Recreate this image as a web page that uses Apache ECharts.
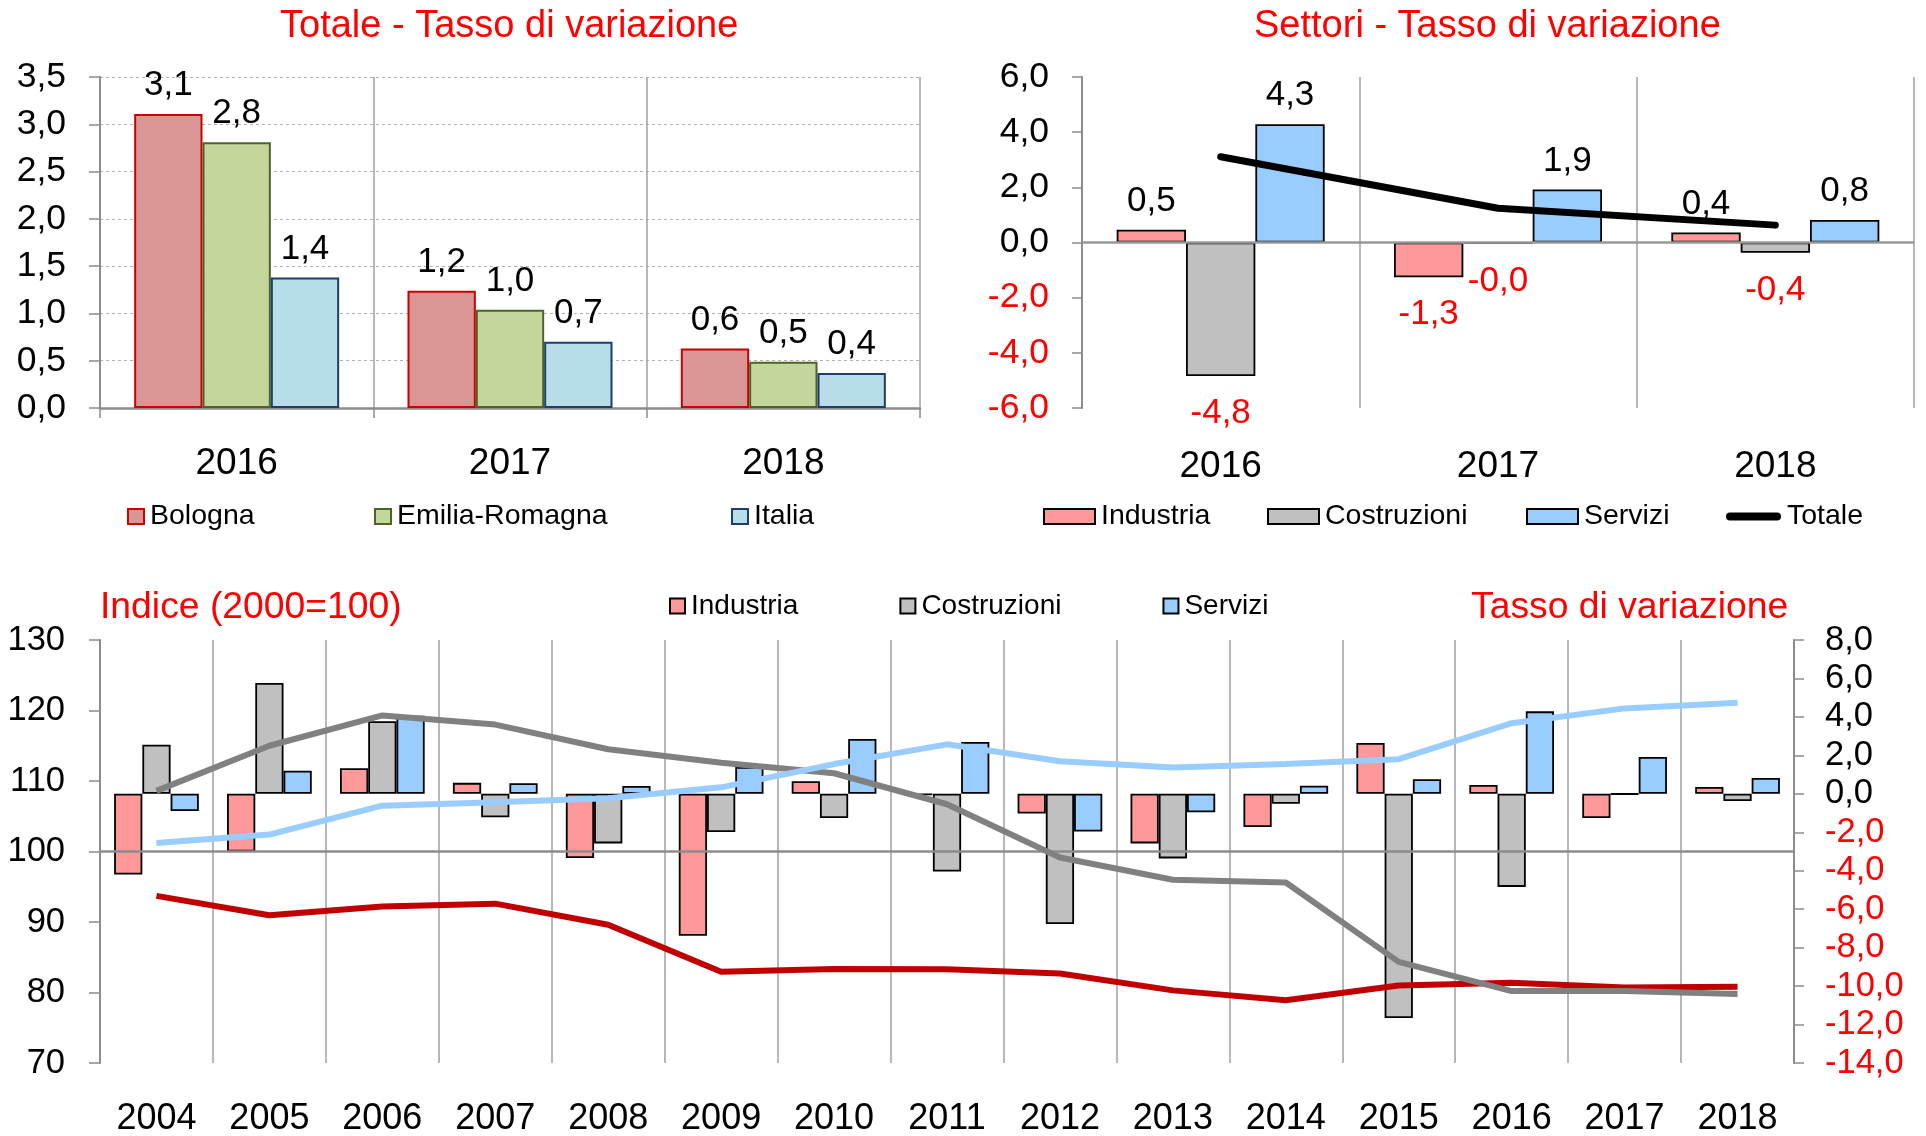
<!DOCTYPE html>
<html><head><meta charset="utf-8">
<script src="https://cdn.jsdelivr.net/npm/echarts@6/dist/echarts.min.js"></script>
<style>html,body{margin:0;padding:0;background:#fff}#c{width:1926px;height:1136px}</style>
</head><body><div id="c"></div>
<script>
// ---- Top-left: Totale - Tasso di variazione
const years3 = ['2016', '2017', '2018'];
const bologna = [3.11, 1.24, 0.63];
const emilia = [2.81, 1.04, 0.49];
const italia = [1.38, 0.70, 0.37];

// ---- Top-right: Settori - Tasso di variazione
const sectIndustria = [0.46, -1.26, 0.36];
const sectCostruzioni = [-4.84, -0.02, -0.37];
const sectServizi = [4.29, 1.92, 0.82];
const sectTotale = [3.11, 1.24, 0.63];

// ---- Bottom: indices (left axis) and growth rates (right axis)
const years = ['2004','2005','2006','2007','2008','2009','2010','2011','2012','2013','2014','2015','2016','2017','2018'];
const varIndustria = [-4.2, -3.0, 1.33, 0.57, -3.34, -7.38, 0.66, -0.05, -1.03, -2.58, -1.73, 2.64, 0.46, -1.26, 0.36];
const varCostruzioni = [2.55, 5.76, 3.78, -1.22, -2.58, -1.99, -1.26, -4.04, -6.77, -3.36, -0.52, -11.66, -4.84, -0.02, -0.37];
const varServizi = [-0.89, 1.2, 4.06, 0.55, 0.41, 1.4, 2.85, 2.7, -1.96, -0.96, 0.42, 0.76, 4.29, 1.92, 0.82];
const idxIndustria = [93.7, 90.95, 92.2, 92.6, 89.6, 82.95, 83.35, 83.3, 82.7, 80.3, 78.9, 81.0, 81.4, 80.7, 80.8];
const idxCostruzioni = [108.6, 115.0, 119.3, 118.0, 114.5, 112.6, 111.1, 106.7, 99.15, 96.0, 95.6, 84.35, 80.2, 80.2, 79.8];
const idxServizi = [101.2, 102.4, 106.5, 107.0, 107.55, 109.1, 112.4, 115.2, 112.8, 111.9, 112.4, 113.1, 118.2, 120.3, 121.1];

const FONT = "'Liberation Sans', Arial, sans-serif";
const RED = '#ff0000';
const fmt = v => Number(v).toFixed(1).replace('.', ',');
const negRed = v => Number(v) < 0 ? RED : '#000';

const chart = echarts.init(document.getElementById('c'), null, {renderer: 'canvas'});

const posLabel = {show: true, position: 'top', distance: 11, color: '#000', fontSize: 35, formatter: p => fmt(p.value)};
const negLabel = {show: true, position: 'bottom', distance: 20, color: RED, fontSize: 35, formatter: p => fmt(p.value)};
const sectData = arr => arr.map(v => ({value: v, label: v < 0 ? negLabel : posLabel}));

const catAxisBase = {
  type: 'category', boundaryGap: true,
  axisLabel: {fontSize: 36, color: '#000', interval: 0},
  splitLine: {show: true, interval: 0, lineStyle: {color: '#a0a0a0', width: 1.5}}
};
const axisGray = '#8c8c8c';
const titleStyle = {color: RED, fontSize: 38, fontWeight: 'normal', fontFamily: FONT};
const titleStyle2 = {color: RED, fontSize: 37.3, fontWeight: 'normal', fontFamily: FONT};

const option = {
  animation: false,
  textStyle: {fontFamily: FONT},
  title: [
    {text: 'Totale - Tasso di variazione', left: 280, top: 8, padding: 0, textStyle: titleStyle},
    {text: 'Settori - Tasso di variazione', left: 1254, top: 8, padding: 0, textStyle: titleStyle},
    {text: 'Indice (2000=100)', left: 100, top: 589, padding: 0, textStyle: titleStyle2},
    {text: 'Tasso di variazione', left: 1471, top: 589, padding: 0, textStyle: titleStyle2}
  ],
  legend: [
    {data: ['Bologna'], left: 127, top: 502},
    {data: ['Emilia-Romagna'], left: 374, top: 502},
    {data: ['Italia'], left: 731, top: 502},
    {data: ['Industria'], left: 1043, top: 502, itemWidth: 51},
    {data: ['Costruzioni'], left: 1267, top: 502, itemWidth: 51},
    {data: ['Servizi'], left: 1526, top: 502, itemWidth: 51},
    {data: [{name: 'Totale', icon: 'path://M4,0 H51 A4,4 0 0 1 51,8 H4 A4,4 0 0 1 4,0 Z'}], left: 1726, top: 502, itemWidth: 55},
    {data: ['Industria', 'Costruzioni', 'Servizi'], left: 669, top: 592, itemGap: 101, itemWidth: 15,
      textStyle: {fontSize: 28, color: '#000', fontFamily: FONT, padding: [0, 0, 0, 1]}}
  ].map(l => Object.assign({padding: 0, itemHeight: 15, itemWidth: 16, icon: 'rect', selectedMode: false,
    textStyle: {fontSize: 28.5, color: '#000', fontFamily: FONT, padding: [0, 0, 0, 1]}}, l)),
  grid: [
    {left: 100, top: 77, width: 820, height: 331, outerBoundsMode: 'none'},
    {left: 1082, top: 77, width: 832, height: 331, outerBoundsMode: 'none'},
    {left: 100, top: 640, width: 1694, height: 423, outerBoundsMode: 'none'}
  ],
  xAxis: [
    Object.assign({}, catAxisBase, {gridIndex: 0, data: years3,
      axisLine: {show: true, lineStyle: {color: axisGray, width: 2.5}},
      axisTick: {show: true, length: 10, lineStyle: {color: axisGray, width: 1.5}},
      axisLabel: {fontSize: 37, color: '#000', interval: 0, margin: 37}}),
    Object.assign({}, catAxisBase, {gridIndex: 1, data: years3,
      axisLine: {show: false, onZero: false},
      axisTick: {show: false},
      axisLabel: {fontSize: 37, color: '#000', interval: 0, margin: 40}}),
    Object.assign({}, catAxisBase, {gridIndex: 2, data: years,
      axisLine: {show: false, onZero: false},
      axisTick: {show: false},
      axisLabel: {fontSize: 36, color: '#000', interval: 0, margin: 38}})
  ],
  yAxis: [
    {type: 'value', gridIndex: 0, min: 0, max: 3.5, interval: 0.5,
      axisLine: {show: true, lineStyle: {color: axisGray, width: 2}},
      axisTick: {show: true, length: 11, lineStyle: {color: axisGray, width: 1.5}},
      axisLabel: {fontSize: 35.5, color: '#000', margin: 34, formatter: fmt},
      splitLine: {show: true, lineStyle: {color: '#b0b0b0', width: 1, type: [3, 3]}}},
    {type: 'value', gridIndex: 1, min: -6, max: 6, interval: 2,
      axisLine: {show: true, lineStyle: {color: axisGray, width: 2}},
      axisTick: {show: true, length: 10, lineStyle: {color: axisGray, width: 1.5}},
      axisLabel: {fontSize: 35.5, color: negRed, margin: 33, formatter: fmt},
      splitLine: {show: false}},
    {type: 'value', gridIndex: 2, min: 70, max: 130, interval: 10, position: 'left',
      axisLine: {show: true, lineStyle: {color: axisGray, width: 2}},
      axisTick: {show: true, length: 11, lineStyle: {color: axisGray, width: 1.5}},
      axisLabel: {fontSize: 34.5, color: '#000', margin: 35},
      splitLine: {show: false}},
    {type: 'value', gridIndex: 2, min: -14, max: 8, interval: 2, position: 'right',
      axisLine: {show: true, lineStyle: {color: axisGray, width: 2}},
      axisTick: {show: true, length: 10, lineStyle: {color: axisGray, width: 1.5}},
      axisLabel: {fontSize: 34.5, color: negRed, margin: 31, formatter: fmt},
      splitLine: {show: false}}
  ],
  series: [
    // top-left
    {name: 'Bologna', type: 'bar', xAxisIndex: 0, yAxisIndex: 0, data: bologna, barGap: '0%', barCategoryGap: '25%',
      itemStyle: {color: '#d99694', borderColor: '#cc0000', borderWidth: 2}, label: posLabel},
    {name: 'Emilia-Romagna', type: 'bar', xAxisIndex: 0, yAxisIndex: 0, data: emilia, barGap: '0%', barCategoryGap: '25%',
      itemStyle: {color: '#c3d69b', borderColor: '#4f6228', borderWidth: 2}, label: posLabel},
    {name: 'Italia', type: 'bar', xAxisIndex: 0, yAxisIndex: 0, data: italia, barGap: '0%', barCategoryGap: '25%',
      itemStyle: {color: '#b7dee8', borderColor: '#1f3d66', borderWidth: 2}, label: posLabel},
    // top-right
    {name: 'Industria', type: 'bar', xAxisIndex: 1, yAxisIndex: 1, data: sectData(sectIndustria), barGap: '0%', barCategoryGap: '25%',
      itemStyle: {color: '#ff9999', borderColor: '#000', borderWidth: 1.8},
      markLine: {silent: true, symbol: ['none', 'none'], label: {show: false}, data: [{yAxis: 0}],
        lineStyle: {color: '#999999', width: 2.5, type: 'solid'}, emphasis: {disabled: true}}},
    {name: 'Costruzioni', type: 'bar', xAxisIndex: 1, yAxisIndex: 1, data: sectData(sectCostruzioni), barGap: '0%', barCategoryGap: '25%',
      itemStyle: {color: '#c0c0c0', borderColor: '#000', borderWidth: 1.8}},
    {name: 'Servizi', type: 'bar', xAxisIndex: 1, yAxisIndex: 1, data: sectData(sectServizi), barGap: '0%', barCategoryGap: '25%',
      itemStyle: {color: '#99ccff', borderColor: '#000', borderWidth: 1.8}},
    {name: 'Totale', type: 'line', xAxisIndex: 1, yAxisIndex: 1, data: sectTotale, symbol: 'none', z: 5,
      itemStyle: {color: '#000'}, lineStyle: {color: '#000', width: 7, cap: 'round'}},
    // bottom bars (right axis)
    {name: 'Industria', type: 'bar', xAxisIndex: 2, yAxisIndex: 3, data: varIndustria, barGap: '0%', barCategoryGap: '25%',
      itemStyle: {color: '#ff9999', borderColor: '#000', borderWidth: 1.8}},
    {name: 'Costruzioni', type: 'bar', xAxisIndex: 2, yAxisIndex: 3, data: varCostruzioni, barGap: '0%', barCategoryGap: '25%',
      itemStyle: {color: '#c0c0c0', borderColor: '#000', borderWidth: 1.8}},
    {name: 'Servizi', type: 'bar', xAxisIndex: 2, yAxisIndex: 3, data: varServizi, barGap: '0%', barCategoryGap: '25%',
      itemStyle: {color: '#99ccff', borderColor: '#000', borderWidth: 1.8}},
    // bottom lines (left axis)
    {name: 'Indice Industria', type: 'line', xAxisIndex: 2, yAxisIndex: 2, data: idxIndustria, symbol: 'none', z: 5,
      itemStyle: {color: '#c00000'}, lineStyle: {color: '#c00000', width: 6},
      markLine: {silent: true, symbol: ['none', 'none'], label: {show: false}, data: [{yAxis: 100}],
        lineStyle: {color: '#8c8c8c', width: 2.5, type: 'solid'}, emphasis: {disabled: true}}},
    {name: 'Indice Costruzioni', type: 'line', xAxisIndex: 2, yAxisIndex: 2, data: idxCostruzioni, symbol: 'none', z: 5,
      itemStyle: {color: '#808080'}, lineStyle: {color: '#808080', width: 6}},
    {name: 'Indice Servizi', type: 'line', xAxisIndex: 2, yAxisIndex: 2, data: idxServizi, symbol: 'none', z: 5,
      itemStyle: {color: '#99ccff'}, lineStyle: {color: '#99ccff', width: 6}}
  ]
};
chart.setOption(option);
</script>
</body></html>
